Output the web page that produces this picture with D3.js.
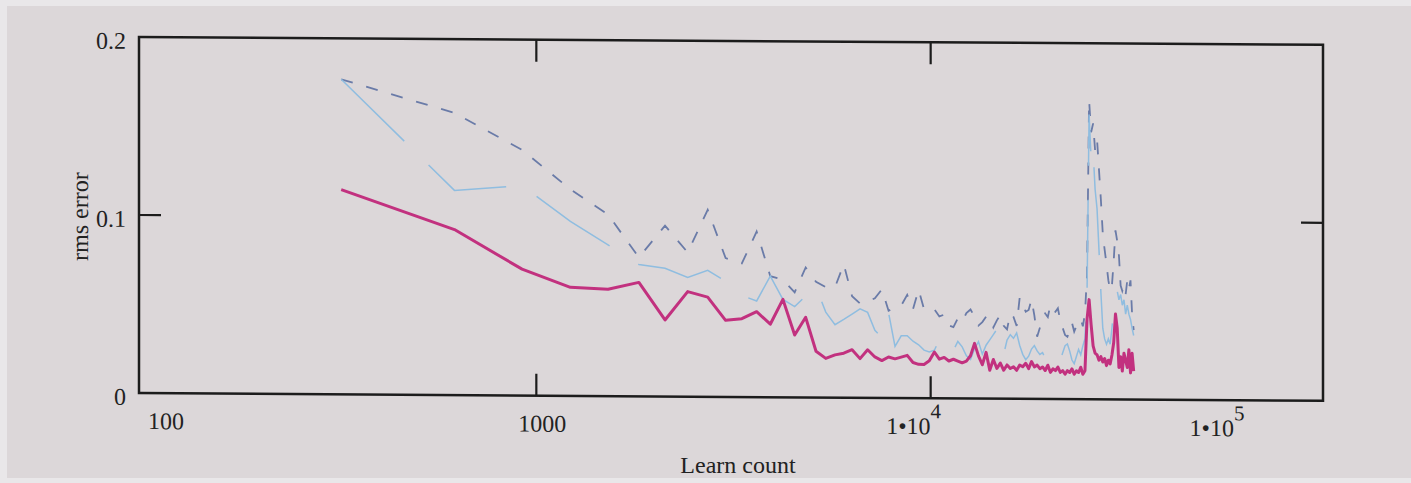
<!DOCTYPE html>
<html><head><meta charset="utf-8">
<script src="https://cdn.jsdelivr.net/npm/d3@7"></script>
<style>
html,body{margin:0;padding:0;background:#e9e7e9;}
svg{display:block;}
text{font-family:"Liberation Serif","Times New Roman",serif;fill:#222;}
</style></head>
<body>
<svg id="chart" width="1411" height="483"></svg>
<script>
// Learn count (x values)
const learnCount = [320,620,920,1220,1520,1820,2120,2420,2720,3020,
3320,3620,3920,4220,4520,4820,5120,5420,5720,6020,
6320,6620,6920,7220,7520,7820,8120,8420,8720,9020,
9320,9620,9920,10220,10520,10820,11120,11420,11720,12020,
12320,12620,12920,13220,13520,13820,14120,14420,14720,15020,
15320,15620,15920,16220,16520,16820,17120,17420,17720,18020,
18320,18620,18920,19220,19520,19820,20120,20420,20720,21020,
21320,21620,21920,22220,22520,22820,23120,23420,23720,24020,
24320,24620,24920,25220,25520,25820,26120,26420,26720,27020,
27320,27620,27920,28220,28520,28820,29120,29420,29720,30020,
30320,30620,30920,31220,31520,31820,32120,32420,32720];

// rms error, magenta solid (thick)
const rmsMagenta = [0.115,0.093,0.071,0.061,0.060,0.064,0.043,0.059,0.056,0.043,
0.044,0.048,0.041,0.055,0.035,0.045,0.026,0.022,0.024,0.025,
0.027,0.022,0.027,0.023,0.021,0.023,0.022,0.023,0.024,0.020,
0.019,0.019,0.021,0.026,0.022,0.023,0.021,0.022,0.021,0.020,
0.021,0.024,0.031,0.024,0.019,0.026,0.016,0.022,0.017,0.020,
0.016,0.019,0.017,0.018,0.016,0.019,0.018,0.020,0.017,0.021,
0.018,0.019,0.017,0.018,0.016,0.019,0.015,0.017,0.016,0.018,
0.015,0.016,0.014,0.016,0.015,0.017,0.014,0.016,0.015,0.018,
0.014,0.016,0.045,0.056,0.042,0.030,0.026,0.025,0.022,0.024,
0.021,0.023,0.019,0.022,0.020,0.025,0.032,0.048,0.040,0.018,
0.024,0.016,0.026,0.022,0.018,0.028,0.015,0.026,0.016];

// rms error, light blue solid (thin, long dashes)
const rmsLightBlue = [0.177,0.115,0.118,0.098,0.085,0.074,0.072,0.067,0.071,0.065,
0.057,0.054,0.068,0.055,0.051,0.057,0.062,0.048,0.041,0.044,
0.047,0.050,0.048,0.038,0.034,0.048,0.029,0.035,0.035,0.032,
0.030,0.027,0.026,0.027,0.033,0.028,0.030,0.027,0.032,0.029,
0.024,0.022,0.028,0.032,0.025,0.030,0.033,0.036,0.039,0.027,
0.025,0.033,0.036,0.034,0.037,0.030,0.025,0.022,0.024,0.028,
0.030,0.027,0.025,0.026,0.023,0.022,0.021,0.023,0.020,0.019,
0.022,0.026,0.030,0.031,0.027,0.022,0.020,0.024,0.028,0.025,
0.030,0.034,0.060,0.160,0.135,0.140,0.118,0.107,0.084,0.060,
0.040,0.034,0.031,0.034,0.031,0.040,0.052,0.059,0.061,0.056,
0.059,0.053,0.056,0.048,0.053,0.048,0.045,0.040,0.036];

// rms error, slate blue dashed
const rmsDashed = [0.177,0.1585,0.138,0.116,0.102,0.078,0.096,0.081,0.105,0.078,
0.075,0.093,0.068,0.066,0.059,0.073,0.065,0.062,0.062,0.075,
0.057,0.053,0.054,0.056,0.061,0.049,0.051,0.052,0.058,0.050,
0.061,0.050,0.049,0.050,0.046,0.047,0.041,0.040,0.045,0.043,
0.048,0.050,0.046,0.041,0.043,0.046,0.046,0.040,0.044,0.047,
0.041,0.039,0.048,0.046,0.041,0.057,0.053,0.049,0.050,0.056,
0.047,0.035,0.040,0.044,0.048,0.046,0.053,0.050,0.049,0.051,
0.044,0.040,0.036,0.035,0.039,0.043,0.038,0.041,0.044,0.045,
0.041,0.048,0.070,0.168,0.150,0.155,0.140,0.146,0.129,0.112,
0.093,0.084,0.076,0.067,0.061,0.064,0.078,0.095,0.089,0.081,
0.064,0.061,0.064,0.059,0.067,0.062,0.067,0.048,0.039];

const xTicks = [1000, 10000];
const xTickLabels = [
  {v:100, base:"100", sup:""},
  {v:1000, base:"1000", sup:""},
  {v:10000, base:"1\u202210", sup:"4"},
  {v:100000, base:"1\u202210", sup:"5"}
];
const yTicks = [0.1];
const yTickLabels = [0, 0.1, 0.2];

const svg = d3.select("#chart");
// photo background
svg.append("rect").attr("x",7).attr("y",6).attr("width",1404).attr("height",472).attr("fill","#dcd7d9");

const L = 139, R = 1323, T = 37, B = 393;
const skew = 0.38;
const g = svg.append("g")
  .attr("transform", `translate(0,${-L*Math.tan(skew*Math.PI/180)}) skewY(${skew})`);

const x = d3.scaleLog().domain([100, 100000]).range([L + 3, R + 2]);
const y = d3.scaleLinear().domain([0, 0.2]).range([B, T]);

const line = d3.line().x((d,i)=>x(learnCount[i])).y(d=>y(d));

g.append("path").datum(rmsDashed).attr("d", line)
  .attr("fill","none").attr("stroke","#6a7ba8").attr("stroke-width",1.8)
  .attr("stroke-dasharray","12,14");
g.append("path").datum(rmsLightBlue).attr("d", line)
  .attr("fill","none").attr("stroke","#8fbde0").attr("stroke-width",1.5)
  .attr("stroke-dasharray","88,34");
g.append("path").datum(rmsMagenta).attr("d", line)
  .attr("fill","none").attr("stroke","#c2317f").attr("stroke-width",3)
  .attr("stroke-linejoin","round");

// frame
g.append("rect").attr("x",L).attr("y",T).attr("width",R-L).attr("height",B-T)
  .attr("fill","none").attr("stroke","#1c1c1c").attr("stroke-width",2.5);

const tl = 22;
xTicks.forEach(v=>{
  g.append("line").attr("x1",x(v)).attr("x2",x(v)).attr("y1",B).attr("y2",B-tl).attr("stroke","#1c1c1c").attr("stroke-width",2.2);
  g.append("line").attr("x1",x(v)).attr("x2",x(v)).attr("y1",T).attr("y2",T+tl).attr("stroke","#1c1c1c").attr("stroke-width",2.2);
});
yTicks.forEach(v=>{
  g.append("line").attr("x1",L).attr("x2",L+tl).attr("y1",y(v)).attr("y2",y(v)).attr("stroke","#1c1c1c").attr("stroke-width",2.2);
  g.append("line").attr("x1",R).attr("x2",R-tl).attr("y1",y(v)).attr("y2",y(v)).attr("stroke","#1c1c1c").attr("stroke-width",2.2);
});

// y tick labels
yTickLabels.forEach(v=>{
  g.append("text").attr("x",L-13).attr("y",y(v)+12).attr("text-anchor","end")
    .attr("font-size",24).text(v===0?"0":String(v));
});

// x tick labels (Mathcad-style placement)
const xLabelShift = {100:24, 1000:6, 10000:-17, 100000:-108};
xTickLabels.forEach(d=>{
  const t = g.append("text").attr("x",x(d.v)+xLabelShift[d.v]).attr("y",429)
    .attr("text-anchor","middle").attr("font-size",24);
  t.append("tspan").text(d.base);
  if (d.sup) t.append("tspan").attr("dy",-16).attr("font-size",21).text(d.sup);
});

// axis titles
g.append("text").attr("transform",`translate(88,217) rotate(-90)`).attr("text-anchor","middle")
  .attr("font-size",24).text("rms error");
svg.append("text").attr("x",738).attr("y",473).attr("text-anchor","middle")
  .attr("font-size",24).text("Learn count");
</script>
</body></html>
